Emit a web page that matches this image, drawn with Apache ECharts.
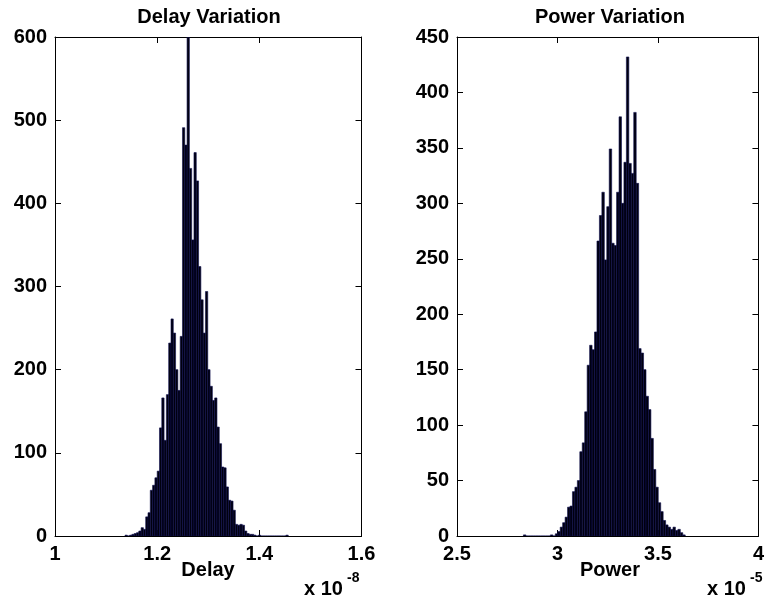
<!DOCTYPE html>
<html><head><meta charset="utf-8">
<script src="https://cdn.jsdelivr.net/npm/echarts@6/dist/echarts.min.js"></script>
<style>html,body{margin:0;padding:0;background:#fff}#c{width:767px;height:599px}</style>
</head><body><div id="c"></div>
<script>
// Delay histogram (x in units of 1e-8)
const delayStart = 1.1393;
const delayBinWidth = 0.0045;
const delayCounts = [1,0,1,2,3,4,6,10,8,23,28,55,61,70,78,130,166,115,170,232,261,244,200,175,240,491,470,600,442,356,461,427,324,284,244,294,200,180,163,166,131,111,83,82,59,43,42,31,14,13,14,13,6,3,2,2,1,0,1,0,0,0,0,0,0,0,0,0,0,0,1];
// Power histogram (x in units of 1e-5)
const powerStart = 2.8366;
const powerBinWidth = 0.0122;
const powerCounts = [1,0,0,0,0,0,0,0,0,0,0,1,0,2,4,8,12,17,26,27,40,44,50,76,84,112,154,172,168,184,266,289,310,249,297,349,264,262,310,378,300,337,432,336,327,382,318,169,165,150,126,114,88,60,44,30,22,14,10,8,6,8,5,6,3,1];
const delayXTicks = {min:1, max:1.6, interval:0.2};
const delayYTicks = {min:0, max:600, interval:100};
const powerXTicks = {min:2.5, max:4, interval:0.5};
const powerYTicks = {min:0, max:450, interval:50};

function toData(start, w, counts){ return counts.map((c,i)=>[start + i*w, c]); }

const FONT = '"Liberation Sans", Arial, Helvetica, sans-serif';
const labelStyle = {color:'#000', fontSize:20, fontWeight:'bold', fontFamily:FONT};

function renderer(w){
  return function(params, api){
    const x = api.value(0), y = api.value(1);
    const p1 = api.coord([x - w/2, y]);
    const p2 = api.coord([x + w/2, 0]);
    return {type:'rect', shape:{x:p1[0], y:p1[1], width:p2[0]-p1[0], height:p2[1]-p1[1]},
      style:{fill:'#00000e', stroke:'#0d0d50', lineWidth:0.6}};
  };
}

function xAx(grid, t, pos, labels){
  return {type:'value', gridIndex:grid, position:pos, min:t.min, max:t.max, interval:t.interval,
    axisLine:{show:true, onZero:false, lineStyle:{color:'#000', width:1}},
    axisTick:{show:true, inside:true, length:6, lineStyle:{color:'#000'}},
    axisLabel:Object.assign({show:labels, margin:8, formatter:v=>String(+v.toFixed(2))}, labelStyle),
    splitLine:{show:false}};
}
function yAx(grid, t, pos, labels){
  return {type:'value', gridIndex:grid, position:pos, min:t.min, max:t.max, interval:t.interval,
    axisLine:{show:true, onZero:false, lineStyle:{color:'#000', width:1}},
    axisTick:{show:true, inside:true, length:6, lineStyle:{color:'#000'}},
    axisLabel:Object.assign({show:labels, margin:8}, labelStyle),
    splitLine:{show:false}};
}

const chart = echarts.init(document.getElementById('c'), null, {renderer:'canvas'});
const txt = (x,y,s,size,align,va) => ({type:'text', x:x, y:y, style:{text:s, fill:'#000', font:'bold '+size+'px '+FONT, textAlign:align||'center', textVerticalAlign:va||'middle'}});
chart.setOption({
  animation:false,
  backgroundColor:'#fff',
  grid:[
    {left:55, top:37, width:306.5, height:499},
    {left:457, top:37, width:306.8, height:499}
  ],
  xAxis:[
    xAx(0, delayXTicks, 'bottom', true),
    xAx(0, delayXTicks, 'top', false),
    xAx(1, powerXTicks, 'bottom', true),
    xAx(1, powerXTicks, 'top', false)
  ],
  yAxis:[
    yAx(0, delayYTicks, 'left', true),
    yAx(0, delayYTicks, 'right', false),
    yAx(1, powerYTicks, 'left', true),
    yAx(1, powerYTicks, 'right', false)
  ],
  series:[
    {type:'custom', xAxisIndex:0, yAxisIndex:0, clip:true, renderItem:renderer(delayBinWidth), data:toData(delayStart, delayBinWidth, delayCounts)},
    {type:'custom', xAxisIndex:2, yAxisIndex:2, clip:true, renderItem:renderer(powerBinWidth), data:toData(powerStart, powerBinWidth, powerCounts)}
  ],
  graphic:[
    txt(209, 17, 'Delay Variation', 20),
    txt(610, 17, 'Power Variation', 20),
    txt(208, 570, 'Delay', 20),
    txt(610, 570, 'Power', 20),
    txt(304, 589, 'x 10', 20, 'left'),
    txt(347, 578, '-8', 14, 'left'),
    txt(707, 589, 'x 10', 20, 'left'),
    txt(750, 578, '-5', 14, 'left')
  ]
});
</script></body></html>
